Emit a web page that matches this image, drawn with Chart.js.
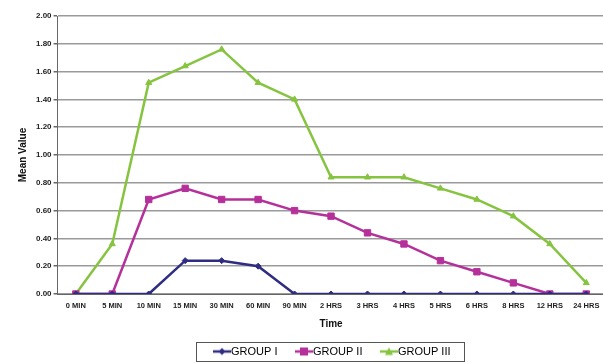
<!DOCTYPE html>
<html>
<head>
<meta charset="utf-8">
<script src="https://cdn.jsdelivr.net/npm/chart.js@4/dist/chart.umd.min.js"></script>
<style>
  html, body { margin: 0; padding: 0; background: #fff; overflow: hidden; }
  #wrap { position: relative; width: 610px; height: 367px; }
</style>
</head>
<body>
<div id="wrap"><canvas id="c"></canvas></div>
<script>
// Time points along the x axis
const categories = ['0 MIN','5 MIN','10 MIN','15 MIN','30 MIN','60 MIN','90 MIN','2 HRS','3 HRS','4 HRS','5 HRS','6 HRS','8 HRS','12 HRS','24 HRS'];

// Mean values per group
const groupI   = [0, 0, 0, 0.24, 0.24, 0.20, 0, 0, 0, 0, 0, 0, 0, 0, 0];
const groupII  = [0, 0, 0.68, 0.76, 0.68, 0.68, 0.60, 0.56, 0.44, 0.36, 0.24, 0.16, 0.08, 0, 0];
const groupIII = [0, 0.36, 1.52, 1.64, 1.76, 1.52, 1.40, 0.84, 0.84, 0.84, 0.76, 0.68, 0.56, 0.36, 0.08];

const seriesNames = ['GROUP I', 'GROUP II', 'GROUP III'];
const colors = ['#2f2d82', '#b5309a', '#86c440'];
const markers = ['rectRot', 'rect', 'triangle'];
const markerSizes = [3, 4.5, 3.5];

// Legend swatch: short line with the series marker in its middle,
// drawn in the right part of a wider transparent image so it sits next to the text
const SW_W = 33, SW_LINE = 18;
function swatch(color, style) {
  const c = document.createElement('canvas');
  c.width = SW_W; c.height = 10;
  const g = c.getContext('2d');
  const x0 = SW_W - SW_LINE, cx = x0 + SW_LINE / 2;
  g.strokeStyle = color; g.fillStyle = color; g.lineWidth = 2.5;
  g.beginPath(); g.moveTo(x0, 5); g.lineTo(SW_W, 5); g.stroke();
  g.beginPath();
  if (style === 'rectRot') { g.moveTo(cx, 1.5); g.lineTo(cx + 3.5, 5); g.lineTo(cx, 8.5); g.lineTo(cx - 3.5, 5); g.closePath(); }
  else if (style === 'rect') { g.rect(cx - 4, 1, 8, 8); }
  else { g.moveTo(cx, 1); g.lineTo(cx + 4, 8.5); g.lineTo(cx - 4, 8.5); g.closePath(); }
  g.fill();
  return c;
}

// Moves the legend right, and draws a frame around it
const legendFrame = {
  id: 'legendFrame',
  afterLayout(chart) {
    const lg = chart.legend;
    if (lg) { lg.left += 15; lg.right += 15; }
  },
  afterDraw(chart) {
    const lg = chart.legend;
    if (!lg || !lg.legendHitBoxes.length) return;
    const boxes = lg.legendHitBoxes;
    const x0 = boxes[0].left - 7.5;
    const last = boxes[boxes.length - 1];
    const x1 = last.left + last.width + 13;
    const y0 = boxes[0].top - 4;
    const y1 = boxes[0].top + boxes[0].height + 4;
    const ctx = chart.ctx;
    ctx.save();
    ctx.strokeStyle = '#555';
    ctx.lineWidth = 1;
    ctx.strokeRect(Math.round(x0) + 0.5, Math.round(y0) + 0.5, Math.round(x1 - x0), Math.round(y1 - y0));
    ctx.restore();
  }
};

const datasets = [groupI, groupII, groupIII].map((vals, i) => ({
  label: seriesNames[i],
  data: vals,
  borderColor: colors[i],
  backgroundColor: colors[i],
  borderWidth: 2.5,
  pointStyle: markers[i],
  pointRadius: markerSizes[i],
  pointHoverRadius: markerSizes[i],
  pointBorderWidth: 1,
  tension: 0
}));

new Chart(document.getElementById('c'), {
  type: 'line',
  data: { labels: categories, datasets },
  options: {
    responsive: true,
    maintainAspectRatio: false,
    animation: false,
    layout: { padding: { top: 16, right: 3, left: 17, bottom: 0 } },
    plugins: {
      tooltip: { enabled: false },
      legend: {
        position: 'bottom',
        labels: {
          usePointStyle: true,
          pointStyleWidth: 22,
          boxHeight: 10,
          padding: 8,
          color: '#111',
          font: { family: 'Liberation Sans, Arial, sans-serif', size: 11 },
          generateLabels(chart) {
            return chart.data.datasets.map((ds, i) => ({
              text: ds.label,
              pointStyle: swatch(colors[i], markers[i]),
              fillStyle: colors[i],
              strokeStyle: colors[i],
              lineWidth: 0,
              datasetIndex: i,
              hidden: false
            }));
          }
        }
      }
    },
    scales: {
      x: {
        offset: true,
        grid: { display: false, drawTicks: true, tickLength: 4, color: '#777' },
        border: { color: '#666', width: 1 },
        ticks: {
          color: '#222',
          maxRotation: 0,
          autoSkip: false,
          padding: 3,
          font: { family: 'Liberation Sans, Arial, sans-serif', size: 7.5, weight: 'bold' }
        },
        title: {
          display: true,
          text: 'Time',
          color: '#111',
          padding: { top: 5, bottom: 8 },
          font: { family: 'Liberation Sans, Arial, sans-serif', size: 10, weight: 'bold' }
        }
      },
      y: {
        min: 0,
        max: 2,
        ticks: {
          stepSize: 0.2,
          color: '#222',
          padding: 2,
          callback: v => Number(v).toFixed(2),
          font: { family: 'Liberation Sans, Arial, sans-serif', size: 8, weight: 'bold' }
        },
        grid: { color: '#9a9a9a', lineWidth: 1.5, tickLength: 4, tickColor: '#666' },
        border: { color: '#666', width: 1 },
        title: {
          display: true,
          text: 'Mean Value',
          color: '#111',
          padding: { top: 0, bottom: 5 },
          font: { family: 'Liberation Sans, Arial, sans-serif', size: 10, weight: 'bold' }
        }
      }
    }
  },
  plugins: [legendFrame]
});
</script>
</body>
</html>
